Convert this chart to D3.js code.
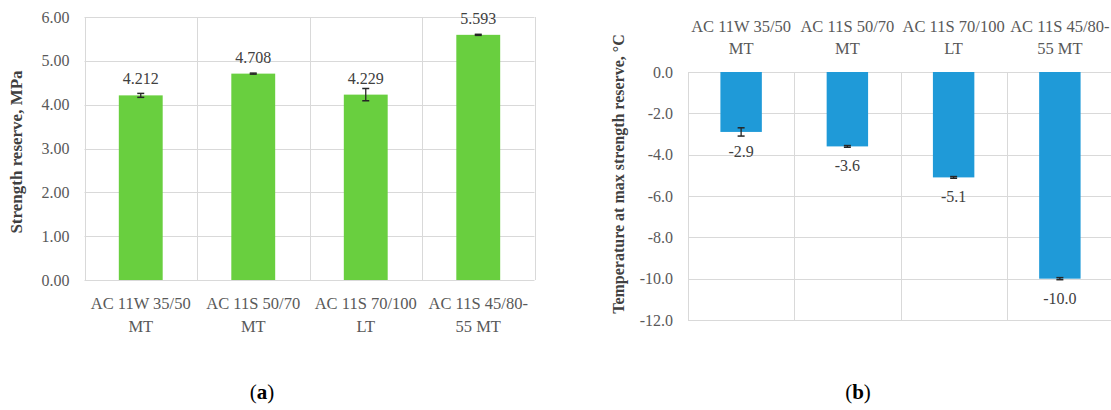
<!DOCTYPE html>
<html><head><meta charset="utf-8">
<script src="https://cdn.jsdelivr.net/npm/d3@7"></script>
<style>
html,body{margin:0;padding:0;background:#fff;}
svg text{font-family:"Liberation Serif","Times New Roman",serif;}
</style></head>
<body>
<svg id="c" width="1111" height="410" font-family="Liberation Serif, serif"></svg>
<script>
// ---- data ----
const categories = [["AC 11W 35/50","MT"],["AC 11S 50/70","MT"],["AC 11S 70/100","LT"],["AC 11S 45/80-","55 MT"]];
const strengthReserve = [4.212, 4.708, 4.229, 5.593];
const strengthError = [0.045, 0.012, 0.14, 0.012];
const temperature = [-2.9, -3.6, -5.1, -10.0];
const temperatureError = [0.2, 0.04, 0.04, 0.05];
const ticksA = [0, 1, 2, 3, 4, 5, 6];
const ticksB = [0, -2, -4, -6, -8, -10, -12];
const titleA = "Strength reserve, MPa";
const titleB = "Temperature at max strength reserve, °C";

const svg = d3.select("#c");
const grid = "#d9d9d9", tickCol = "#595959", titleCol = "#404040";
const FONT = '"Liberation Serif", serif';
const keys = categories.map((c,i)=>i);
const hyph = f => d => f(d).replace("\u2212","-");

function drawChart(opt){
  const g = svg.append("g");
  const x = d3.scaleBand().domain(keys).range([opt.left, opt.right]).padding(0);
  const y = d3.scaleLinear().domain(opt.domain).range(opt.range);
  // horizontal grid
  g.selectAll(".hg").data(opt.ticks).enter().append("line")
    .attr("x1", opt.left).attr("x2", opt.right)
    .attr("y1", d=>Math.round(y(d))+0.5).attr("y2", d=>Math.round(y(d))+0.5)
    .attr("stroke", grid).attr("stroke-width",1);
  // vertical grid at band edges
  const edges = keys.map(k=>x(k)).concat([opt.right]);
  g.selectAll(".vg").data(edges).enter().append("line")
    .attr("x1", d=>Math.round(d)+0.5).attr("x2", d=>Math.round(d)+0.5)
    .attr("y1", y(opt.domain[0])).attr("y2", y(opt.domain[1]))
    .attr("stroke", grid).attr("stroke-width",1);
  // y axis labels
  const yAxis = d3.axisLeft(y).tickValues(opt.ticks).tickFormat(opt.fmt).tickSize(0).tickPadding(0);
  const ya = g.append("g").attr("transform", `translate(${opt.left - 15},0)`).call(yAxis)
    .attr("font-family", FONT).attr("font-size", 16);
  ya.select(".domain").remove();
  ya.selectAll("text").attr("fill", tickCol).style("font-family", FONT);
  // bars
  const bw = x.bandwidth()*0.39;
  g.selectAll(".bar").data(opt.values).enter().append("rect")
    .attr("x", (d,i)=>x(i)+x.bandwidth()/2-bw/2)
    .attr("width", bw)
    .attr("y", d=>Math.min(y(0), y(d)))
    .attr("height", d=>Math.abs(y(d)-y(0)))
    .attr("fill", opt.color);
  // error bars
  opt.values.forEach((v,i)=>{
    const cx = x(i)+x.bandwidth()/2, e = opt.errors[i];
    const y1 = y(v+e), y2 = y(v-e);
    g.append("line").attr("x1",cx).attr("x2",cx).attr("y1",y1).attr("y2",y2).attr("stroke","#262626").attr("stroke-width",1.3);
    [y1,y2].forEach(yy=>g.append("line").attr("x1",cx-3.5).attr("x2",cx+3.5).attr("y1",yy).attr("y2",yy).attr("stroke","#262626").attr("stroke-width",1.5));
  });
  // data labels
  g.selectAll(".dl").data(opt.values).enter().append("text")
    .attr("x", (d,i)=>x(i)+x.bandwidth()/2)
    .attr("y", d=> d>=0 ? y(d)-11 : y(d)+25)
    .attr("text-anchor","middle").attr("font-size",16).attr("fill",titleCol)
    .style("font-family", FONT)
    .text(d=>opt.labelFmt(d));
  // category labels
  categories.forEach((c,i)=>{
    c.forEach((line,j)=>{
      g.append("text").attr("x", x(i)+x.bandwidth()/2).attr("y", opt.catY[j])
        .attr("text-anchor","middle").attr("font-size",16.5).attr("fill",tickCol)
        .style("font-family", FONT).text(line);
    });
  });
  // axis title
  g.append("text").attr("transform", `translate(${opt.titleX},${opt.titleY}) rotate(-90)`)
    .attr("text-anchor","middle").attr("font-size",opt.titleSize).attr("font-weight","bold")
    .attr("fill",titleCol).style("font-family", FONT).text(opt.title);
  // panel label
  const pl = g.append("text").attr("x", opt.panelX).attr("y", 399).attr("text-anchor","middle")
    .attr("font-size",21).attr("fill","#000").style("font-family", FONT);
  pl.append("tspan").text("(");
  pl.append("tspan").attr("font-weight","bold").text(opt.panel);
  pl.append("tspan").text(")");
}

drawChart({
  left:84.5, right:534.5, domain:[0,6], range:[280,17], ticks:ticksA,
  fmt:d3.format(".2f"), values:strengthReserve, errors:strengthError,
  color:"#69cf3f", labelFmt:d3.format(".3f"), catY:[309,332],
  title:titleA, titleX:22, titleY:152, titleSize:17, panel:"a", panelX:262
});
drawChart({
  left:688, right:1113, domain:[-12,0], range:[320,72], ticks:ticksB,
  fmt:hyph(d3.format(".1f")), values:temperature, errors:temperatureError,
  color:"#1f9ad8", labelFmt:hyph(d3.format(".1f")), catY:[32,54],
  title:titleB, titleX:624, titleY:174, titleSize:16, panel:"b", panelX:858
});
</script>
</body></html>
